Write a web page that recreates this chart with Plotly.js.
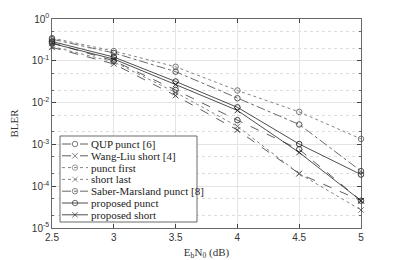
<!DOCTYPE html>
<html><head><meta charset="utf-8">
<script src="https://cdn.plot.ly/plotly-3.0.1.min.js"></script>
<style>html,body{margin:0;padding:0;background:#fff}#g{width:399px;height:260px}</style>
</head><body><div id="g"></div>
<script>
const ebn0 = [2.5, 3, 3.5, 4, 4.5, 5];
const names = ["QUP punct [6]", "Wang-Liu short [4]", "punct first", "short last",
  "Saber-Marsland punct [8]", "proposed punct", "proposed short"];
const qupPunct      = [0.27, 0.100, 0.020, 0.0038, 0.00076, 0.000045];
const wangLiuShort  = [0.21, 0.084, 0.0147, 0.0022, 0.00020, 0.000045];
const punctFirst    = [0.35, 0.171, 0.072, 0.0195, 0.0060, 0.00135];
const shortLast     = [0.22, 0.094, 0.0175, 0.0027, 0.00020, 0.000027];
const saberPunct    = [0.33, 0.154, 0.055, 0.0127, 0.0030, 0.00023];
const proposedPunct = [0.29, 0.123, 0.032, 0.0077, 0.00102, 0.00019];
const proposedShort = [0.26, 0.110, 0.027, 0.0065, 0.00064, 0.000045];
const series = [qupPunct, wangLiuShort, punctFirst, shortLast, saberPunct, proposedPunct, proposedShort];
const dashes = ["dash", "dash", "dot", "dot", "dashdot", "solid", "solid"];
const symbols = ["circle-open", "x-thin-open", "circle-open", "x-thin-open", "circle-open", "circle-open", "x-thin-open"];
const colors = ["#333", "#333", "#666", "#666", "#444", "#222", "#222"];
const yTickVals = [1, 0.1, 0.01, 0.001, 0.0001, 0.00001];
const yTickText = ["10<sup>0</sup>", "10<sup>-1</sup>", "10<sup>-2</sup>", "10<sup>-3</sup>", "10<sup>-4</sup>", "10<sup>-5</sup>"];
const xTickVals = [2.5, 3, 3.5, 4, 4.5, 5];
const xTickText = ["2.5", "3", "3.5", "4", "4.5", "5"];

const traces = series.map((s, i) => ({
  x: ebn0, y: s, name: names[i], type: "scatter", mode: "lines+markers",
  line: {color: colors[i], width: 0.8, dash: dashes[i]},
  marker: {symbol: symbols[i], size: 5.5, color: colors[i], line: {width: 0.9, color: colors[i]}},
  showlegend: false, cliponaxis: false
}));

// custom legend (pixel-like overlay axes)
const L = {left: 60, right: 197, top: 136, bottom: 222, y0: 144, dy: 11.8, s0: 62, s1: 88, tx: 89};
traces.push({x: [L.left, L.right, L.right, L.left, L.left], y: [L.top, L.top, L.bottom, L.bottom, L.top],
  xaxis: "x2", yaxis: "y2", mode: "lines", fill: "toself", fillcolor: "#fff",
  line: {color: "#444", width: 0.8}, showlegend: false, hoverinfo: "skip"});
const annotations = [];
names.forEach((n, i) => {
  const yy = L.y0 + i * L.dy;
  traces.push({x: [L.s0, (L.s0 + L.s1) / 2, L.s1], y: [yy, yy, yy], xaxis: "x2", yaxis: "y2",
    mode: "lines+markers", line: {color: colors[i], width: 0.8, dash: dashes[i]},
    marker: {symbol: symbols[i], size: [0, 5.5, 0], color: colors[i], line: {width: 0.9, color: colors[i]}},
    showlegend: false, hoverinfo: "skip"});
  annotations.push({x: L.tx, y: yy, xref: "x2", yref: "y2", text: n, showarrow: false,
    xanchor: "left", yanchor: "middle", font: {family: "Liberation Serif, serif", size: 11, color: "#222"}});
});

const layout = {
  width: 399, height: 260, margin: {l: 52, r: 38, t: 19, b: 32},
  paper_bgcolor: "#fff", plot_bgcolor: "#fff", showlegend: false,
  xaxis: {range: [2.5, 5], tickvals: xTickVals, ticktext: xTickText, ticks: "inside", ticklen: 4,
    tickcolor: "#444", showline: true, linecolor: "#444", linewidth: 0.8, mirror: "ticks",
    showgrid: true, gridcolor: "#e4e4e4", gridwidth: 1, zeroline: false,
    tickfont: {family: "Liberation Sans, Arial, sans-serif", size: 10, color: "#333"},
    title: {text: "E<sub>b</sub>N<sub>0</sub> (dB)", standoff: 6,
      font: {family: "Liberation Serif, serif", size: 11, color: "#333"}}},
  yaxis: {type: "log", range: [-5, 0], tickvals: yTickVals, ticktext: yTickText, ticks: "inside", ticklen: 4,
    tickcolor: "#444", showline: true, linecolor: "#444", linewidth: 0.8, mirror: "ticks",
    showgrid: true, gridcolor: "#e4e4e4", gridwidth: 1, zeroline: false,
    minor: {ticks: "inside", ticklen: 2, tickcolor: "#666", showgrid: true, gridcolor: "#cfcfcf", griddash: "dot", gridwidth: 0.7},
    tickfont: {family: "Liberation Sans, Arial, sans-serif", size: 10, color: "#333"},
    title: {text: "BLER", standoff: 10, font: {family: "Liberation Serif, serif", size: 11, color: "#333"}}},
  xaxis2: {overlaying: "x", range: [52, 361], visible: false, fixedrange: true},
  yaxis2: {overlaying: "y", range: [228, 19], visible: false, fixedrange: true},
  annotations: annotations
};
Plotly.newPlot("g", traces, layout, {staticPlot: true, displayModeBar: false});
</script></body></html>
